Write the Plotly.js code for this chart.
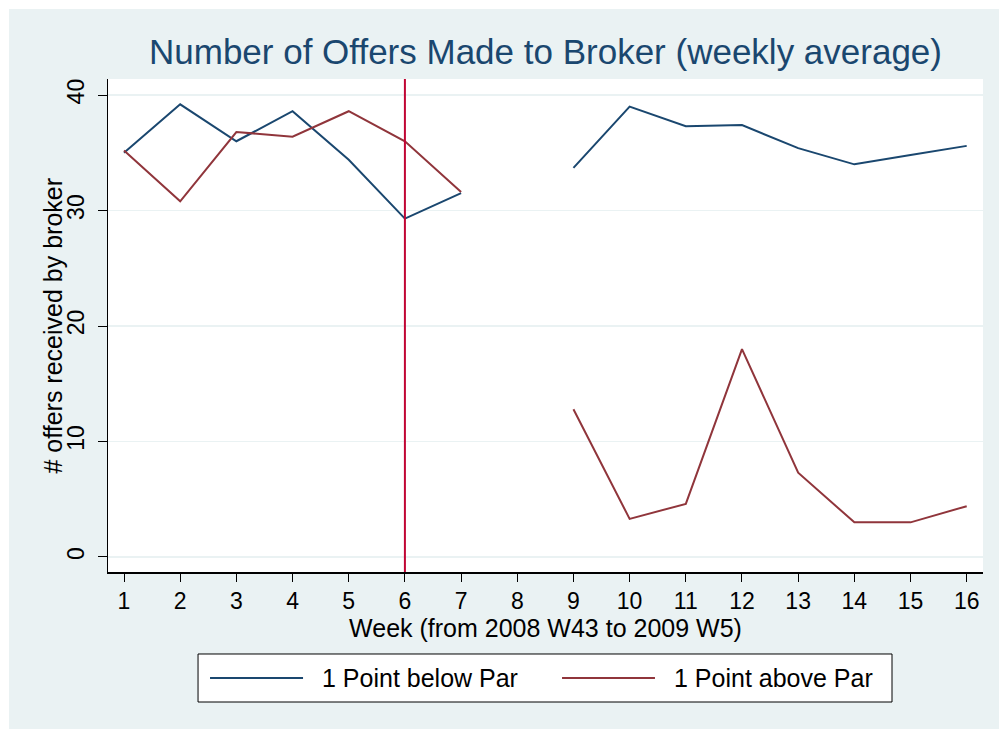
<!DOCTYPE html>
<html>
<head>
<meta charset="utf-8">
<script src="https://cdn.plot.ly/plotly-3.0.1.min.js"></script>
<style>
  html, body { margin: 0; padding: 0; background: #ffffff; }
  #chart { position: absolute; left: 9px; top: 9px; width: 990px; height: 720px; }
</style>
</head>
<body>
<div id="chart"></div>
<script>
// ---- data ----
const weeks = [1, 2, 3, 4, 5, 6, 7, 8, 9, 10, 11, 12, 13, 14, 15, 16];
const belowParName = "1 Point below Par";
const belowPar = [35.0, 39.2, 36.0, 38.6, 34.4, 29.3, 31.5, null, 33.7, 39.0, 37.3, 37.4, 35.4, 34.0, 34.8, 35.6];
const aboveParName = "1 Point above Par";
const abovePar = [35.2, 30.8, 36.8, 36.4, 38.6, 36.0, 31.6, null, 12.8, 3.3, 4.6, 18.0, 7.3, 3.0, 3.0, 4.4];
const markerWeek = 6;
const xTickVals = [1, 2, 3, 4, 5, 6, 7, 8, 9, 10, 11, 12, 13, 14, 15, 16];
const yTickVals = [0, 10, 20, 30, 40];
const yTitle = "# offers received by broker";

const blue = "#1a476f";
const red = "#90353b";
const cranberry = "#c10534";

const traces = [
  { x: weeks, y: belowPar, name: belowParName, type: "scatter", mode: "lines",
    line: { color: blue, width: 2 }, connectgaps: false, showlegend: false },
  { x: weeks, y: abovePar, name: aboveParName, type: "scatter", mode: "lines",
    line: { color: red, width: 2 }, connectgaps: false, showlegend: false }
];

// legend drawn in paper coordinates (Stata-style wide samples)
const legY = -0.215;
const layout = {
  width: 990, height: 720,
  paper_bgcolor: "#eaf2f3",
  plot_bgcolor: "#ffffff",
  margin: { l: 99, r: 16, t: 70, b: 157 },
  font: { family: "Liberation Sans, Arial, sans-serif", color: "#000000" },
  title: { text: "Number of Offers Made to Broker (weekly average)",
           font: { size: 35, color: blue }, x: 0.5, xref: "paper",
           y: 1 - 43 / 720, yref: "container", yanchor: "middle" },
  xaxis: {
    range: [0.715, 16.29], tickvals: xTickVals, ticktext: xTickVals.map(String),
    ticks: "outside", ticklen: 8, tickwidth: 1, tickcolor: "#000000",
    showline: true, linecolor: "#000000", linewidth: 1.5, showgrid: false,
    zeroline: false, tickfont: { size: 23 },
    title: { text: "Week (from 2008 W43 to 2009 W5)", font: { size: 25 }, standoff: 1 }
  },
  yaxis: {
    range: [-1.3, 41.39], tickvals: yTickVals, ticktext: yTickVals.map(String),
    ticks: "outside", ticklen: 9, tickwidth: 1, tickcolor: "#000000",
    showline: true, linecolor: "#000000", linewidth: 1.5,
    showgrid: true, gridcolor: "#eaf2f3", gridwidth: 1.5,
    zeroline: false, tickangle: -90, tickfont: { size: 23 }, ticklabelstandoff: 4
  },
  shapes: [
    { type: "line", xref: "x", yref: "paper", x0: markerWeek, x1: markerWeek, y0: 0, y1: 1,
      line: { color: cranberry, width: 2 } },
    { type: "rect", xref: "paper", yref: "paper", x0: 0.1029, x1: 0.896, y0: -0.1663, y1: -0.2637,
      line: { color: "#000000", width: 1 }, fillcolor: "#ffffff" },
    { type: "line", xref: "paper", yref: "paper", x0: 0.1166, x1: 0.2229, y0: legY, y1: legY,
      line: { color: blue, width: 2 } },
    { type: "line", xref: "paper", yref: "paper", x0: 0.5189, x1: 0.6251, y0: legY, y1: legY,
      line: { color: red, width: 2 } }
  ],
  annotations: [
    { xref: "paper", yref: "paper", x: -0.064, y: 0.5, xanchor: "center", yanchor: "middle",
      textangle: -90, text: yTitle, showarrow: false, font: { size: 25, color: "#000000" } },
    { xref: "paper", yref: "paper", x: 0.2423, y: legY, xanchor: "left", yanchor: "middle",
      text: belowParName, showarrow: false, font: { size: 25, color: "#000000" } },
    { xref: "paper", yref: "paper", x: 0.6446, y: legY, xanchor: "left", yanchor: "middle",
      text: aboveParName, showarrow: false, font: { size: 25, color: "#000000" } }
  ],
  showlegend: false
};

Plotly.newPlot("chart", traces, layout, { displayModeBar: false, staticPlot: true });
</script>
</body>
</html>
